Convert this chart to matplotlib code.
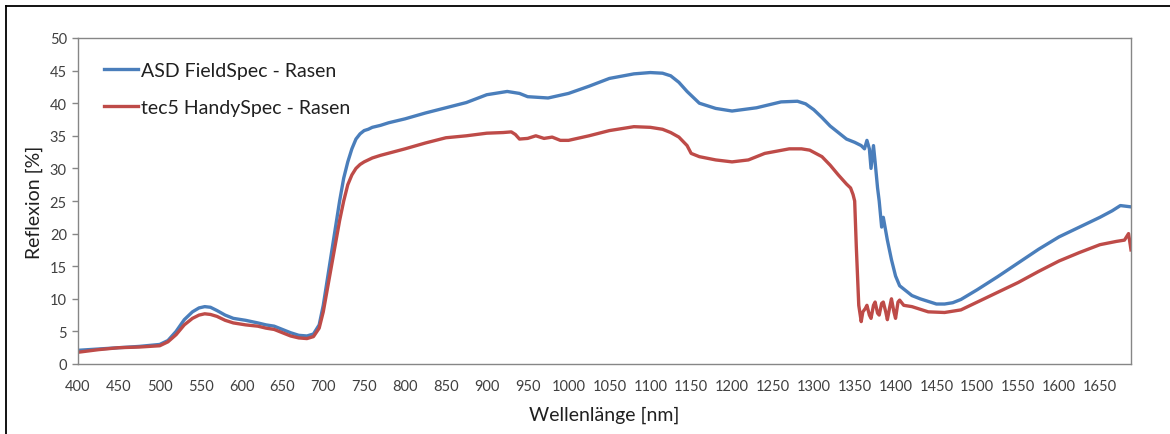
import matplotlib.pyplot as plt
import numpy as np

# Reflexionsspektren Rasen: ASD FieldSpec vs. tec5 HandySpec
asd_nm = [400, 425, 450, 475, 500, 510, 520, 530, 540, 548, 555, 562, 570, 580, 590,
          605, 620, 630, 640, 650, 660, 670, 680, 688, 695, 700, 705, 710, 715, 720,
          725, 730, 735, 740, 745, 750, 755, 760, 770, 780, 800, 825, 850, 875, 900,
          925, 940, 950, 975, 1000, 1025, 1050, 1080, 1100, 1115, 1125, 1135, 1145,
          1160, 1180, 1200, 1230, 1260, 1280, 1290, 1300, 1310, 1320, 1330, 1340,
          1350, 1358, 1362, 1365, 1368, 1370, 1373, 1375, 1378, 1380, 1383, 1385,
          1390, 1395, 1400, 1405, 1410, 1420, 1430, 1440, 1450, 1460, 1470, 1480,
          1500, 1525, 1550, 1575, 1600, 1625, 1650, 1665, 1675, 1688]
asd_val = [2.1, 2.3, 2.5, 2.7, 3.0, 3.6, 5.0, 6.8, 8.0, 8.6, 8.8, 8.7, 8.2, 7.5, 7.0,
           6.7, 6.3, 6.0, 5.8, 5.3, 4.8, 4.4, 4.3, 4.6, 6.0, 9.0, 13.0, 17.0, 21.0, 25.0,
           28.5, 31.0, 33.0, 34.5, 35.3, 35.8, 36.0, 36.3, 36.6, 37.0, 37.6, 38.5, 39.3, 40.1, 41.3,
           41.8, 41.5, 41.0, 40.8, 41.5, 42.6, 43.8, 44.5, 44.7, 44.6, 44.2, 43.2, 41.8,
           40.0, 39.2, 38.8, 39.3, 40.2, 40.3, 39.9, 39.0, 37.8, 36.5, 35.5, 34.5,
           34.0, 33.5, 33.0, 34.3, 33.0, 30.0, 33.5, 31.0, 27.0, 25.0, 21.0, 22.5,
           19.0, 16.0, 13.5, 12.0, 11.5, 10.5, 10.0, 9.6, 9.2, 9.2, 9.4, 9.9,
           11.4, 13.4, 15.5, 17.6, 19.5, 21.0, 22.5, 23.5, 24.3, 24.1]

tec_nm = [400, 425, 450, 475, 500, 510, 520, 530, 540, 548, 555, 562, 570, 580, 590,
          605, 620, 630, 640, 650, 660, 670, 680, 688, 695, 700, 705, 710, 715, 720,
          725, 730, 735, 740, 745, 750, 760, 770, 785, 800, 825, 850, 875, 900, 920,
          930, 935, 940, 950, 960, 970, 980, 990, 1000, 1025, 1050, 1080, 1100, 1115,
          1125, 1135, 1145, 1150, 1160, 1180, 1200, 1220, 1240, 1270, 1285, 1295,
          1310, 1320, 1330, 1340, 1345, 1348, 1350, 1352, 1355, 1358, 1360, 1363,
          1365, 1368, 1370, 1373, 1375, 1378, 1380, 1383, 1385, 1388, 1390, 1393,
          1395, 1398, 1400, 1403, 1405, 1410, 1420, 1440, 1460, 1480, 1500, 1525,
          1550, 1575, 1600, 1625, 1650, 1670, 1680, 1685, 1688]
tec_val = [1.8, 2.2, 2.5, 2.6, 2.8, 3.4, 4.5, 6.0, 7.0, 7.5, 7.7, 7.6, 7.3, 6.7, 6.3,
           6.0, 5.8, 5.5, 5.3, 4.8, 4.3, 4.0, 3.9, 4.2, 5.5, 8.0, 11.5, 15.0, 18.5, 22.0,
           25.0, 27.5, 29.0, 30.0, 30.6, 31.0, 31.6, 32.0, 32.5, 33.0, 33.9, 34.7, 35.0, 35.4, 35.5,
           35.6, 35.2, 34.5, 34.6, 35.0, 34.6, 34.8, 34.3, 34.3, 35.0, 35.8, 36.4, 36.3, 36.0,
           35.5, 34.8, 33.5, 32.3, 31.8, 31.3, 31.0, 31.3, 32.3, 33.0, 33.0, 32.8,
           31.8, 30.5, 29.0, 27.6, 27.0, 26.0, 25.0, 18.0, 9.0, 6.5, 8.0, 8.5,
           9.0, 7.5, 7.0, 9.0, 9.5, 7.8, 7.5, 9.3, 9.5, 8.0, 6.8, 8.8,
           10.0, 8.0, 7.0, 9.5, 9.8, 9.0, 8.8, 8.0, 7.9, 8.3, 9.5, 11.0,
           12.5, 14.2, 15.8, 17.1, 18.3, 18.8, 19.0, 20.0, 17.5]

labels = ["ASD FieldSpec - Rasen", "tec5 HandySpec - Rasen"]
colors = ["#4a7ebb", "#be4b48"]
xticks = np.arange(400, 1651, 50)
yticks = np.arange(0, 51, 5)

plt.rcParams['font.family'] = ['Lato', 'DejaVu Sans']
grey = "#868686"
txt = "#404040"

fig = plt.figure(figsize=(11.7, 4.35), dpi=100)
ax = fig.add_axes([78 / 1170, 70 / 435, (1131 - 78) / 1170, (365 - 39) / 435])

ax.plot(asd_nm, asd_val, color=colors[0], lw=2.4, label=labels[0], solid_joinstyle='round')
ax.plot(tec_nm, tec_val, color=colors[1], lw=2.4, label=labels[1], solid_joinstyle='round')

ax.set_xlim(400, 1688)
ax.set_ylim(0, 50)
ax.set_xticks(xticks)
ax.set_yticks(yticks)
ax.tick_params(axis='x', length=0, pad=11, labelsize=10.5, colors=txt)
ax.tick_params(axis='y', length=4, width=1, color=grey, pad=4, labelsize=10.5, labelcolor=txt)
for s in ax.spines.values():
    s.set_color(grey)
    s.set_linewidth(1)

ax.set_xlabel("Wellenlänge [nm]", fontsize=14, color="#202020", labelpad=9)
ax.set_ylabel("Reflexion [%]", fontsize=14, color="#202020", labelpad=5)

leg = ax.legend(loc='upper left', frameon=False, fontsize=14, handlelength=1.75,
                handletextpad=0.15, labelspacing=1.0, borderaxespad=0.0,
                bbox_to_anchor=(0.017, 0.95))
for t in leg.get_texts():
    t.set_color("#202020")

# Rahmen links/oben
fig.add_artist(plt.Line2D([6 / 1170, 6 / 1170], [0, 1 - 7 / 435], color="black", lw=1.3))
fig.add_artist(plt.Line2D([6 / 1170, 1], [1 - 7 / 435, 1 - 7 / 435], color="black", lw=1.3))

fig.savefig("out.png", dpi=100)
